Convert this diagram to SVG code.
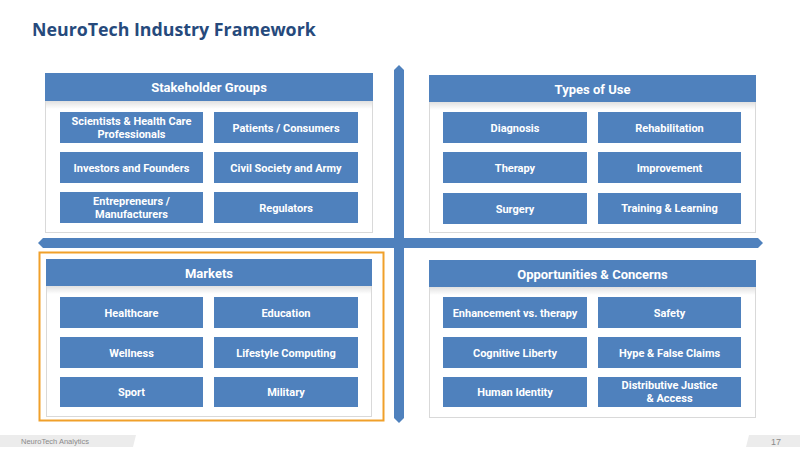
<svg xmlns="http://www.w3.org/2000/svg" width="800" height="451" viewBox="0 0 800 451">
<defs>
<linearGradient id="hshadow" x1="0" y1="0" x2="0" y2="1">
<stop offset="0" stop-color="#000" stop-opacity="0.12"/>
<stop offset="1" stop-color="#000" stop-opacity="0"/>
</linearGradient>
<style>
.panel{fill:#fff;stroke:#d9d9d9;stroke-width:1}
.hdr{fill:#4f81bd}
.box{fill:#4f81bd}
.sh{fill:url(#hshadow)}
.ht{font-family:Roboto,"Liberation Sans",sans-serif;font-weight:700;font-size:13px;fill:#fff;text-anchor:middle}
.bt{font-family:Roboto,"Liberation Sans",sans-serif;font-weight:700;font-size:11px;fill:#fff;text-anchor:middle}
.arrow{fill:#4f81bd}
.title{font-family:"Open Sans","Liberation Sans",sans-serif;font-weight:700;font-size:17.8px;fill:#264a7c}
.foot{font-family:"Liberation Sans",Arial,sans-serif;font-size:7.5px;fill:#8a8a8a}
</style>
</defs>
<rect width="800" height="451" fill="#fff"/>
<text class="title" x="32" y="36">NeuroTech Industry Framework</text>

<g id="connectors">
<polygon class="arrow" points="399,65 404,70 404,418 399,423 394,418 394,70"/>
<polygon class="arrow" points="38,243 43,238 758,238 763,243 758,248 43,248"/>
</g>

<g id="stakeholder-groups">
<rect class="panel" x="45.5" y="73.5" width="327" height="159"/>
<rect class="sh" x="46" y="101" width="326" height="8"/>
<rect class="hdr" x="45" y="73" width="328" height="28"/>
<text class="ht" x="209" y="92">Stakeholder Groups</text>
<g id="sg-scientists"><rect class="box" x="60" y="112" width="143" height="31"/><text class="bt" x="131.5" y="125">Scientists &amp; Health Care</text><text class="bt" x="131.5" y="138">Professionals</text></g>
<g id="sg-patients"><rect class="box" x="214" y="112" width="144" height="31"/><text class="bt" x="286" y="131.5">Patients / Consumers</text></g>
<g id="sg-investors"><rect class="box" x="60" y="152" width="143" height="31"/><text class="bt" x="131.5" y="171.5">Investors and Founders</text></g>
<g id="sg-civil"><rect class="box" x="214" y="152" width="144" height="31"/><text class="bt" x="286" y="171.5">Civil Society and Army</text></g>
<g id="sg-entrepreneurs"><rect class="box" x="60" y="192" width="143" height="31"/><text class="bt" x="131.5" y="205">Entrepreneurs /</text><text class="bt" x="131.5" y="218">Manufacturers</text></g>
<g id="sg-regulators"><rect class="box" x="214" y="192" width="144" height="31"/><text class="bt" x="286" y="211.5">Regulators</text></g>
</g>

<g id="types-of-use">
<rect class="panel" x="429.5" y="75.5" width="326" height="157"/>
<rect class="sh" x="430" y="102" width="325" height="8"/>
<rect class="hdr" x="429" y="75" width="327" height="27"/>
<text class="ht" x="592.5" y="93.5">Types of Use</text>
<g id="tu-diagnosis"><rect class="box" x="443" y="112" width="144" height="31"/><text class="bt" x="515" y="131.5">Diagnosis</text></g>
<g id="tu-rehabilitation"><rect class="box" x="598" y="112" width="143" height="31"/><text class="bt" x="669.5" y="131.5">Rehabilitation</text></g>
<g id="tu-therapy"><rect class="box" x="443" y="152" width="144" height="31"/><text class="bt" x="515" y="171.5">Therapy</text></g>
<g id="tu-improvement"><rect class="box" x="598" y="152" width="143" height="31"/><text class="bt" x="669.5" y="171.5">Improvement</text></g>
<g id="tu-surgery"><rect class="box" x="443" y="193" width="144" height="31"/><text class="bt" x="515" y="212.5">Surgery</text></g>
<g id="tu-training"><rect class="box" x="598" y="193" width="143" height="31"/><text class="bt" x="669.5" y="212">Training &amp; Learning</text></g>
</g>

<g id="markets">
<rect x="39.5" y="252.5" width="344" height="168" fill="none" stroke="#f0a02a" stroke-width="2"/>
<rect class="panel" x="46.5" y="259.5" width="325" height="157"/>
<rect class="sh" x="47" y="286" width="324" height="8"/>
<rect class="hdr" x="46" y="259" width="326" height="27"/>
<text class="ht" x="209" y="277.5">Markets</text>
<g id="mk-healthcare"><rect class="box" x="60" y="297" width="143" height="31"/><text class="bt" x="131.5" y="316.5">Healthcare</text></g>
<g id="mk-education"><rect class="box" x="214" y="297" width="144" height="31"/><text class="bt" x="286" y="316.5">Education</text></g>
<g id="mk-wellness"><rect class="box" x="60" y="337" width="143" height="31"/><text class="bt" x="131.5" y="356.5">Wellness</text></g>
<g id="mk-lifestyle"><rect class="box" x="214" y="337" width="144" height="31"/><text class="bt" x="286" y="356.5">Lifestyle Computing</text></g>
<g id="mk-sport"><rect class="box" x="60" y="377" width="143" height="30"/><text class="bt" x="131.5" y="396">Sport</text></g>
<g id="mk-military"><rect class="box" x="214" y="377" width="144" height="30"/><text class="bt" x="286" y="396">Military</text></g>
</g>

<g id="opportunities-concerns">
<rect class="panel" x="429.5" y="260.5" width="326" height="157"/>
<rect class="sh" x="430" y="287" width="325" height="8"/>
<rect class="hdr" x="429" y="260" width="327" height="27"/>
<text class="ht" x="592.5" y="278.5">Opportunities &amp; Concerns</text>
<g id="oc-enhancement"><rect class="box" x="443" y="297" width="144" height="31"/><text class="bt" x="515" y="316.5">Enhancement vs. therapy</text></g>
<g id="oc-safety"><rect class="box" x="598" y="297" width="143" height="31"/><text class="bt" x="669.5" y="316.5">Safety</text></g>
<g id="oc-liberty"><rect class="box" x="443" y="337" width="144" height="31"/><text class="bt" x="515" y="356.5">Cognitive Liberty</text></g>
<g id="oc-hype"><rect class="box" x="598" y="337" width="143" height="31"/><text class="bt" x="669.5" y="356.5">Hype &amp; False Claims</text></g>
<g id="oc-identity"><rect class="box" x="443" y="377" width="144" height="30"/><text class="bt" x="515" y="396">Human Identity</text></g>
<g id="oc-justice"><rect class="box" x="598" y="377" width="143" height="30"/><text class="bt" x="669.5" y="389">Distributive Justice</text><text class="bt" x="669.5" y="402">&amp; Access</text></g>
</g>

<g id="footer">
<polygon points="0,435 136,435 133,447 0,447" fill="#ececec"/>
<text class="foot" x="21" y="444">NeuroTech Analytics</text>
<polygon points="749,435 800,435 800,447 746,447" fill="#ececec"/>
<text class="foot" x="776" y="444.5" text-anchor="middle" style="font-size:9px">17</text>
</g>
</svg>
